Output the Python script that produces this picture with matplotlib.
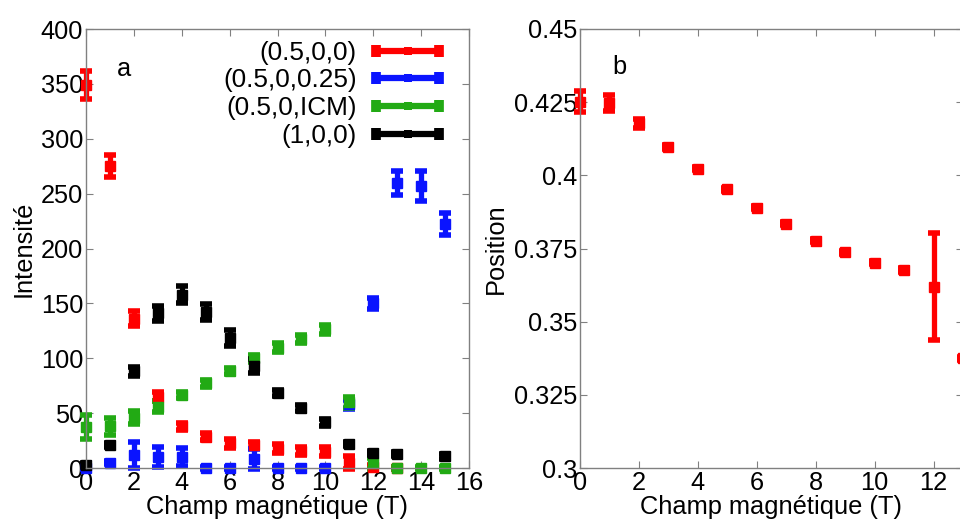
import matplotlib
matplotlib.use("Agg")
import matplotlib.pyplot as plt
import numpy as np
from matplotlib.lines import Line2D
from matplotlib.legend_handler import HandlerLine2D, HandlerTuple
from matplotlib.ticker import FuncFormatter

plt.rcParams['font.family'] = ['Liberation Sans', 'DejaVu Sans']

# field values (T)
champ = list(range(16))

# panel a : intensities, NaN where no point
red_y = [349, 275, 136, 65, 38, 28.5, 22.5, 21, 17.5, 15.5, 15, 5, 1, 0, np.nan, np.nan]
red_e = [13, 10, 7, 4, 3, 3, 4, 3, 4, 4, 4, 6, 2, 1, 0, 0]
blue_y = [0, 5, 12, 10, 10, 0, 0, 8, 0, 0, 0, 58, 150, 260, 257, 222]
blue_e = [1, 1, 12, 9, 8, 0.5, 0.5, 9, 0.5, 0.5, 0.5, 4, 5, 11, 14, 10]
green_y = [37, 38, 46, 56, 66.5, 77, 88.5, 100, 109.5, 117.5, 126.5, 60, 4.5, 0, 0, 0]
green_e = [11, 8, 6, 5, 3, 3, 3, 3, 4, 4, 4, 5, 5, 0.5, 0.5, 0.5]
black_y = [3, 21, 88, 141, 158, 142, 118.5, 93, 68.5, 54.5, 41.5, 22, 13.5, 12.5, np.nan, 10.5]
black_e = [2, 2, 4, 7, 8, 7, 7, 6, 3, 3, 3, 2, 2, 2, 0, 2]

labels = ["(0.5,0,0)", "(0.5,0,0.25)", "(0.5,0,ICM)", "(1,0,0)"]
colors = ["#ff0000", "#0a14ff", "#22aa14", "#000000"]

# panel b : peak position
pos_x = list(range(14))
pos_y = [0.4252, 0.4248, 0.4178, 0.4098, 0.4023, 0.3953, 0.3889, 0.3834,
         0.3777, 0.3737, 0.3702, 0.3677, 0.3620, 0.3375]
pos_e = [0.0037, 0.0028, 0.0015, 0.0007, 0.0005, 0.0005, 0.0005, 0.0005,
         0.0005, 0.0005, 0.0005, 0.0008, 0.0183, 0.0005]

FS = 18.3
eb_kw = dict(fmt='s', ms=6.5, elinewidth=3.8, capsize=4.2, capthick=4)

fig = plt.figure(figsize=(9.6, 5.22), dpi=100)
W, H = 960, 522
ax1 = fig.add_axes([86 / W, 54 / H, 383 / W, 439 / H])
ax2 = fig.add_axes([580 / W, 54 / H, 383 / W, 439 / H])


def style(ax):
    for s in ax.spines.values():
        s.set_color("#808080")
        s.set_linewidth(1)
    ax.tick_params(direction='in', top=True, right=True, length=5,
                   color="#808080", labelsize=FS, pad=2)


def draw(ax, x, y, e, c):
    cont = ax.errorbar(x, y, yerr=e, color=c, mec=c, **eb_kw)
    for art in cont.get_children():
        art.set_clip_on(False)


series = [(red_y, red_e), (blue_y, blue_e), (green_y, green_e), (black_y, black_e)]
handles = []
hmap = {}
for (y, e), c in zip(series, colors):
    draw(ax1, champ, y, e, c)
    ends = Line2D([], [], color=c, lw=4.5, marker='|', ms=9, mew=7)
    mid = Line2D([], [], color=c, lw=0, marker='s', ms=6, mew=0)
    hmap[ends] = HandlerLine2D(numpoints=2)
    hmap[mid] = HandlerLine2D(numpoints=1)
    handles.append((ends, mid))

hmap[tuple] = HandlerTuple(ndivide=1, pad=0)
ax1.legend(handles, labels, handler_map=hmap,
           loc='upper right', frameon=False, fontsize=18.8, markerfirst=False,
           handlelength=3.0, handletextpad=0.45, labelspacing=0.14,
           borderaxespad=0.3, bbox_to_anchor=(0.99, 1.015))
ax1.set_xlim(0, 16)
ax1.set_ylim(0, 400)
ax1.set_xticks(range(0, 17, 2))
ax1.set_yticks(range(0, 401, 50))
ax1.set_xlabel("Champ magnétique (T)", fontsize=FS, labelpad=0)
ax1.set_ylabel("Intensité", fontsize=FS, labelpad=4)
ax1.text(1.3, 364, "a", fontsize=FS, va='center')
style(ax1)

draw(ax2, pos_x, pos_y, pos_e, "#ff0000")
ax2.set_xlim(0, 13)
ax2.set_ylim(0.3, 0.45)
ax2.set_xticks(range(0, 13, 2))
ax2.set_yticks([0.3, 0.325, 0.35, 0.375, 0.4, 0.425, 0.45])
ax2.yaxis.set_major_formatter(FuncFormatter(lambda v, p: "%g" % round(v, 3)))
ax2.set_xlabel("Champ magnétique (T)", fontsize=FS, labelpad=0)
ax2.set_ylabel("Position", fontsize=FS, labelpad=4)
ax2.text(1.1, 0.437, "b", fontsize=FS, va='center')
style(ax2)

fig.savefig("out.png", dpi=100)
